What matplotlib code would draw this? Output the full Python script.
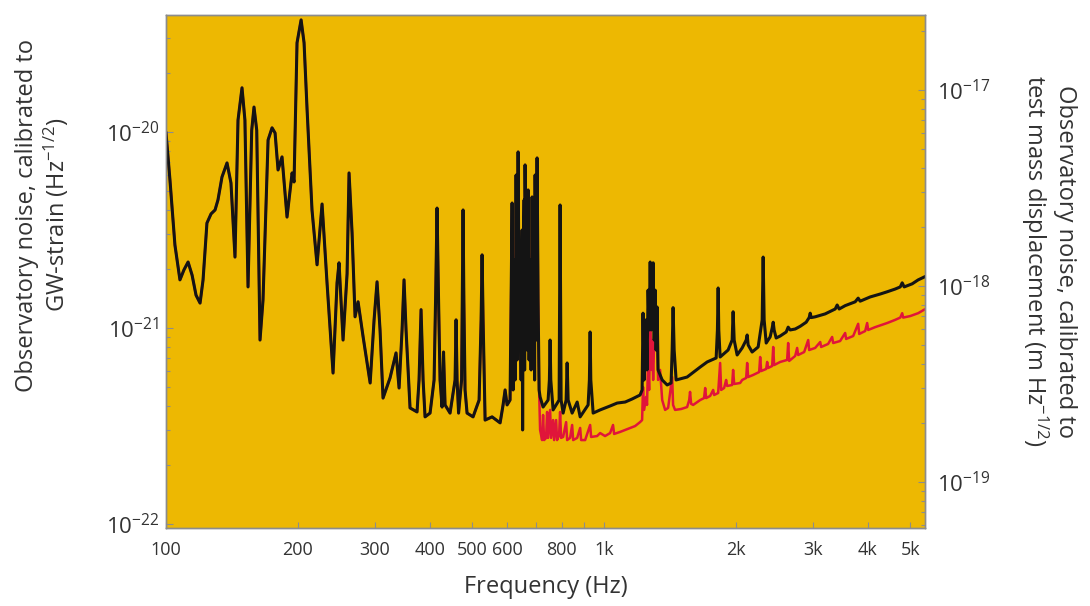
import matplotlib
matplotlib.use('Agg')
import matplotlib.pyplot as plt
from matplotlib.ticker import FixedLocator, FixedFormatter, LogLocator, NullFormatter

plt.rcParams['font.family'] = ['Open Sans', 'DejaVu Sans']
plt.rcParams['mathtext.fontset'] = 'custom'
plt.rcParams['mathtext.rm'] = 'Open Sans'
plt.rcParams['mathtext.it'] = 'Open Sans:italic'
plt.rcParams['mathtext.bf'] = 'Open Sans:bold'

# ---------------- data ----------------
# Below ~710 Hz the two noise curves coincide
shared_freq = [
    100, 102.1, 104.8, 107.6, 109.9, 112.3, 114.7, 117.1, 119.6, 121.5,
    124.0, 126.7, 129.4, 131.4, 134.2, 137.8, 140.7, 143.7, 146.0, 149.1,
    151.4, 153.9, 156.9, 158.8, 161.1, 163.9, 166.5, 171.0, 174.6, 177.4,
    180.2, 184.0, 188.9, 194.0, 196.0, 199.1, 203.4, 206.6, 209.9, 215.4,
    221.2, 227.1, 233.1, 240.6, 245.7, 248.3, 253.6, 259.0, 261.7, 265.9,
    270.1, 274.4, 281.8, 292.4, 298.5, 303.2, 308.0, 312.9, 324.6, 335.0,
    340.4, 345.8, 349.4, 353.1, 360.6, 374.1, 378.1, 382.1, 386.2, 390.2,
    400.6, 409.2, 412.4, 415.6, 418.9, 422.2, 426.7, 430.0, 433.5, 445.0,
    456.9, 459.3, 461.7, 465.4, 472.8, 474.5, 476.5, 478.5, 481.5, 486.6,
    502.2, 518.4, 523.9, 526.6, 529.4, 535.0, 555.0, 578.9, 588.0, 594.3,
    600.5, 610.0, 613.3, 616.6, 619.8, 623.0, 626.3, 629.7, 633.0, 636.4,
    639.7, 643.0, 646.5, 649.9, 651.6, 653.3, 656.8, 658.5, 660.1, 663.6,
    667.2, 670.7, 674.2, 677.7, 681.3, 684.9, 688.6, 692.2, 694.0, 695.9,
    699.5, 703.1, 706.8, 710.6,
]
shared_asd = [
    9.88e-21, 5.69e-21, 2.65e-21, 1.76e-21, 1.98e-21, 2.17e-21, 1.86e-21, 1.47e-21, 1.34e-21, 1.76e-21,
    3.43e-21, 3.82e-21, 4.00e-21, 4.50e-21, 5.89e-21, 6.95e-21, 5.49e-21, 2.30e-21, 1.15e-20, 1.68e-20,
    1.15e-20, 1.62e-21, 1.02e-20, 1.34e-20, 1.02e-20, 8.68e-22, 1.39e-21, 9.10e-21, 1.05e-20, 9.88e-21,
    6.40e-21, 7.46e-21, 3.68e-21, 6.18e-21, 5.56e-21, 2.85e-20, 3.73e-20, 2.85e-20, 1.30e-20, 4.00e-21,
    2.10e-21, 4.29e-21, 1.70e-21, 5.89e-22, 1.70e-21, 2.15e-21, 8.68e-22, 1.89e-21, 6.18e-21, 3.05e-21,
    1.14e-21, 1.36e-21, 9.00e-22, 5.24e-22, 1.10e-21, 1.72e-21, 9.77e-22, 4.39e-22, 5.56e-22, 7.46e-22,
    4.94e-22, 9.77e-22, 1.76e-21, 9.77e-22, 3.91e-22, 3.73e-22, 5.43e-22, 1.24e-21, 5.43e-22, 3.52e-22,
    3.68e-22, 5.43e-22, 1.39e-21, 4.09e-21, 1.39e-21, 5.43e-22, 3.95e-22, 7.54e-22, 4.05e-22, 3.68e-22,
    5.43e-22, 1.10e-21, 5.43e-22, 3.68e-22, 5.43e-22, 1.39e-21, 4.00e-21, 1.39e-21, 4.83e-22, 3.68e-22,
    3.52e-22, 4.29e-22, 1.10e-21, 2.36e-21, 1.10e-21, 3.39e-22, 3.52e-22, 3.28e-22, 4.05e-22, 4.83e-22,
    4.05e-22, 4.29e-22, 1.39e-21, 4.34e-21, 4.83e-22, 2.22e-21, 5.43e-22, 6.03e-21, 6.87e-22, 7.91e-21,
    9.77e-22, 1.39e-21, 5.43e-22, 3.16e-21, 3.02e-22, 1.89e-21, 4.50e-21, 6.11e-22, 6.79e-21, 1.62e-21,
    7.72e-22, 5.06e-21, 6.87e-22, 2.22e-21, 6.11e-22, 4.66e-21, 7.72e-22, 1.76e-21, 5.43e-22, 6.03e-21,
    8.68e-22, 7.37e-21, 1.39e-21, 4.83e-22,
]

# Black curve above ~710 Hz
black_hf_freq = [
    714.3, 725.6, 745.0, 750.1, 752.9, 755.6, 764.9, 789.4, 791.4, 793.5,
    795.6, 797.7, 806.2, 819.0, 823.4, 827.7, 845.3, 868.0, 881.7, 919.3,
    925.6, 929.2, 932.4, 944.0, 979.3, 1032, 1071, 1117, 1158, 1208,
    1221, 1227, 1234, 1240, 1247, 1253, 1260, 1267, 1274, 1281,
    1287, 1294, 1301, 1308, 1314, 1321, 1328, 1357, 1393, 1422,
    1430, 1437, 1445, 1460, 1547, 1657, 1719, 1802, 1814, 1821,
    1827, 1840, 1919, 1960, 1970, 1981, 2012, 2066, 2110, 2121,
    2132, 2177, 2247, 2295, 2307, 2319, 2344, 2393, 2419, 2432,
    2444, 2470, 2523, 2604, 2631, 2659, 2730, 2803, 2892, 2938,
    2954, 2970, 3032, 3196, 3369, 3404, 3440, 3550, 3742, 3801,
    3841, 4049, 4267, 4427, 4617, 4742, 4791, 4841, 5049, 5211,
    5378,
]
black_hf_asd = [
    4.45e-22, 3.95e-22, 4.29e-22, 5.43e-22, 8.68e-22, 5.43e-22, 3.82e-22, 4.29e-22, 1.39e-21, 4.24e-21,
    1.39e-21, 4.29e-22, 3.68e-22, 4.29e-22, 6.63e-22, 4.29e-22, 3.68e-22, 4.19e-22, 3.52e-22, 4.05e-22,
    5.43e-22, 9.54e-22, 5.43e-22, 3.68e-22, 3.82e-22, 4.00e-22, 4.14e-22, 4.19e-22, 4.34e-22, 4.55e-22,
    4.83e-22, 1.19e-21, 5.43e-22, 6.87e-22, 1.10e-21, 6.11e-22, 1.56e-21, 9.77e-22, 2.17e-21, 9.77e-22,
    1.39e-21, 2.15e-21, 8.68e-22, 1.56e-21, 7.72e-22, 1.28e-21, 6.11e-22, 5.43e-22, 5.12e-22, 5.24e-22,
    7.72e-22, 1.27e-21, 7.72e-22, 5.43e-22, 5.62e-22, 6.32e-22, 6.71e-22, 7.03e-22, 9.77e-22, 1.60e-21,
    9.77e-22, 7.11e-22, 7.72e-22, 8.68e-22, 1.21e-21, 8.68e-22, 7.28e-22, 7.91e-22, 8.68e-22, 9.21e-22,
    8.19e-22, 7.54e-22, 8.00e-22, 1.10e-21, 2.30e-21, 1.10e-21, 8.38e-22, 9.00e-22, 1.00e-21, 1.07e-21,
    9.77e-22, 8.89e-22, 9.10e-22, 9.54e-22, 1.01e-21, 9.77e-22, 9.88e-22, 1.02e-21, 1.07e-21, 1.13e-21,
    1.19e-21, 1.13e-21, 1.14e-21, 1.18e-21, 1.25e-21, 1.31e-21, 1.25e-21, 1.30e-21, 1.36e-21, 1.42e-21,
    1.37e-21, 1.44e-21, 1.49e-21, 1.53e-21, 1.58e-21, 1.62e-21, 1.70e-21, 1.62e-21, 1.68e-21, 1.76e-21,
    1.82e-21,
]

# Red curve above ~710 Hz
red_hf_freq = [
    714.3, 721.8, 725.6, 729.5, 737.2, 741.1, 745.0, 752.9, 756.8, 764.9,
    768.9, 777.0, 781.1, 789.4, 793.5, 797.7, 806.2, 819.0, 823.4, 836.4,
    845.3, 849.9, 868.0, 881.7, 886.3, 905.1, 929.2, 934.0, 963.9, 979.3,
    1005, 1032, 1048, 1054, 1088, 1117, 1147, 1177, 1208, 1221,
    1227, 1234, 1247, 1253, 1260, 1267, 1274, 1281, 1287, 1294,
    1308, 1314, 1321, 1328, 1342, 1357, 1378, 1400, 1430, 1437,
    1452, 1499, 1547, 1564, 1571, 1580, 1597, 1657, 1691, 1701,
    1710, 1746, 1774, 1783, 1821, 1840, 1850, 1879, 1899, 1909,
    1960, 1970, 1981, 2044, 2066, 2110, 2121, 2132, 2189, 2259,
    2271, 2283, 2344, 2356, 2368, 2419, 2432, 2444, 2523, 2617,
    2631, 2645, 2730, 2758, 2773, 2862, 2923, 2938, 3032, 3114,
    3129, 3246, 3315, 3333, 3457, 3550, 3568, 3703, 3801, 3822,
    3944, 3985, 4007, 4156, 4427, 4617, 4742, 4791, 4815, 4995,
    5211, 5378,
]
red_hf_asd = [
    3.02e-22, 2.68e-22, 3.60e-22, 2.68e-22, 2.75e-22, 3.73e-22, 2.75e-22, 3.82e-22, 2.75e-22, 3.39e-22,
    2.68e-22, 3.39e-22, 2.68e-22, 2.85e-22, 3.73e-22, 2.75e-22, 2.78e-22, 3.31e-22, 2.68e-22, 2.75e-22,
    3.20e-22, 2.68e-22, 2.75e-22, 3.09e-22, 2.68e-22, 2.68e-22, 3.20e-22, 2.78e-22, 2.81e-22, 2.91e-22,
    2.81e-22, 2.91e-22, 3.20e-22, 2.88e-22, 2.95e-22, 3.02e-22, 3.09e-22, 3.16e-22, 3.31e-22, 3.39e-22,
    5.00e-22, 3.82e-22, 4.45e-22, 4.05e-22, 6.87e-22, 4.83e-22, 9.77e-22, 6.11e-22, 8.68e-22, 5.43e-22,
    1.39e-21, 7.72e-22, 9.77e-22, 5.43e-22, 6.11e-22, 4.29e-22, 3.82e-22, 3.91e-22, 5.62e-22, 4.05e-22,
    3.82e-22, 3.86e-22, 3.95e-22, 4.29e-22, 4.72e-22, 4.10e-22, 4.05e-22, 4.29e-22, 4.39e-22, 4.94e-22,
    4.39e-22, 4.50e-22, 4.83e-22, 4.55e-22, 4.66e-22, 6.63e-22, 4.83e-22, 4.94e-22, 5.43e-22, 5.06e-22,
    5.12e-22, 6.11e-22, 5.18e-22, 5.24e-22, 5.43e-22, 5.56e-22, 6.63e-22, 5.62e-22, 5.76e-22, 5.96e-22,
    7.11e-22, 6.03e-22, 6.18e-22, 6.71e-22, 6.25e-22, 6.40e-22, 8.00e-22, 6.47e-22, 6.71e-22, 6.87e-22,
    8.38e-22, 6.79e-22, 7.20e-22, 7.91e-22, 7.28e-22, 7.54e-22, 8.68e-22, 7.72e-22, 7.91e-22, 8.48e-22,
    8.00e-22, 8.29e-22, 9.00e-22, 8.38e-22, 8.58e-22, 9.43e-22, 8.79e-22, 9.10e-22, 1.05e-21, 9.32e-22,
    9.65e-22, 1.06e-21, 9.77e-22, 1.01e-21, 1.06e-21, 1.10e-21, 1.13e-21, 1.19e-21, 1.13e-21, 1.15e-21,
    1.19e-21, 1.24e-21,
]

x_tick_values = [100, 200, 300, 400, 500, 600, 800, 1000, 2000, 3000, 4000, 5000]
x_tick_labels = ['100', '200', '300', '400', '500', '600', '800', '1k', '2k', '3k', '4k', '5k']
x_minor_values = [700, 900]
left_tick_values = [1e-22, 1e-21, 1e-20]
left_tick_labels = [r'$10^{-22}$', r'$10^{-21}$', r'$10^{-20}$']
right_tick_values = [1e-19, 1e-18, 1e-17]
right_tick_labels = [r'$10^{-19}$', r'$10^{-18}$', r'$10^{-17}$']
displacement_per_strain = 610.0   # right-axis calibration
x_limits = (100, 5400)
y_limits = (0.954e-22, 3.95e-20)

black_freq = shared_freq + black_hf_freq
black_asd = shared_asd + black_hf_asd
red_freq = shared_freq + red_hf_freq
red_asd = shared_asd + red_hf_asd

# ---------------- figure ----------------
bg = '#EDB802'
txt = '#333333'
spine_c = '#8c8c8c'

fig = plt.figure(figsize=(10.9, 6.06), dpi=100)
ax = fig.add_axes([0.1523, 0.1287, 0.6963, 0.8465])
ax.set_facecolor(bg)
ax.set_xscale('log')
ax.set_yscale('log')

ax.plot(red_freq, red_asd, color='#E0153A', lw=1.8, zorder=2)
ax.plot(black_freq, black_asd, color='#141414', lw=2.2, zorder=3)

ax.set_xlim(*x_limits)
ax.set_ylim(*y_limits)

ax.xaxis.set_major_locator(FixedLocator(x_tick_values))
ax.xaxis.set_major_formatter(FixedFormatter(x_tick_labels))
ax.xaxis.set_minor_locator(FixedLocator(x_minor_values))
ax.xaxis.set_minor_formatter(NullFormatter())

ax.yaxis.set_major_locator(FixedLocator(left_tick_values))
ax.yaxis.set_major_formatter(FixedFormatter(left_tick_labels))
ax.yaxis.set_minor_locator(LogLocator(base=10, subs=range(2, 10)))
ax.yaxis.set_minor_formatter(NullFormatter())

ax.tick_params(axis='x', which='both', direction='in', length=4, width=0.8,
               color=spine_c, labelsize=13, labelcolor=txt, pad=9)
ax.tick_params(axis='y', which='major', direction='in', length=5, width=0.8,
               color=spine_c, labelsize=16, labelcolor=txt, pad=5)
ax.tick_params(axis='y', which='minor', direction='in', length=3, width=0.8, color=spine_c)

ax2 = ax.twinx()
ax2.set_yscale('log')
ax2.set_ylim(y_limits[0] * displacement_per_strain, y_limits[1] * displacement_per_strain)
ax2.yaxis.set_major_locator(FixedLocator(right_tick_values))
ax2.yaxis.set_major_formatter(FixedFormatter(right_tick_labels))
ax2.yaxis.set_minor_locator(LogLocator(base=10, subs=range(2, 10)))
ax2.yaxis.set_minor_formatter(NullFormatter())
ax2.tick_params(axis='y', which='major', direction='in', length=5, width=0.8,
                color=spine_c, labelsize=16, labelcolor=txt, pad=9)
ax2.tick_params(axis='y', which='minor', direction='in', length=3, width=0.8, color=spine_c)

for a in (ax, ax2):
    for s in a.spines.values():
        s.set_color(spine_c)
        s.set_linewidth(1.0)

ax.set_xlabel('Frequency (Hz)', fontsize=17, color=txt, va='center', ha='center')
ax.xaxis.set_label_coords(0.5, -0.115)
ax.set_ylabel('Observatory noise, calibrated to\nGW-strain (Hz$^{-1/2}$)',
              fontsize=17, color=txt, va='center', ha='center', linespacing=1.15)
ax.yaxis.set_label_coords(-0.162, 0.61)
ax2.set_ylabel('Observatory noise, calibrated to\ntest mass displacement (m Hz$^{-1/2}$)',
               fontsize=17, color=txt, rotation=270, va='center', ha='center', linespacing=1.15)
ax2.yaxis.set_label_coords(1.162, 0.52)

fig.savefig('out.png', dpi=100, facecolor='white')
